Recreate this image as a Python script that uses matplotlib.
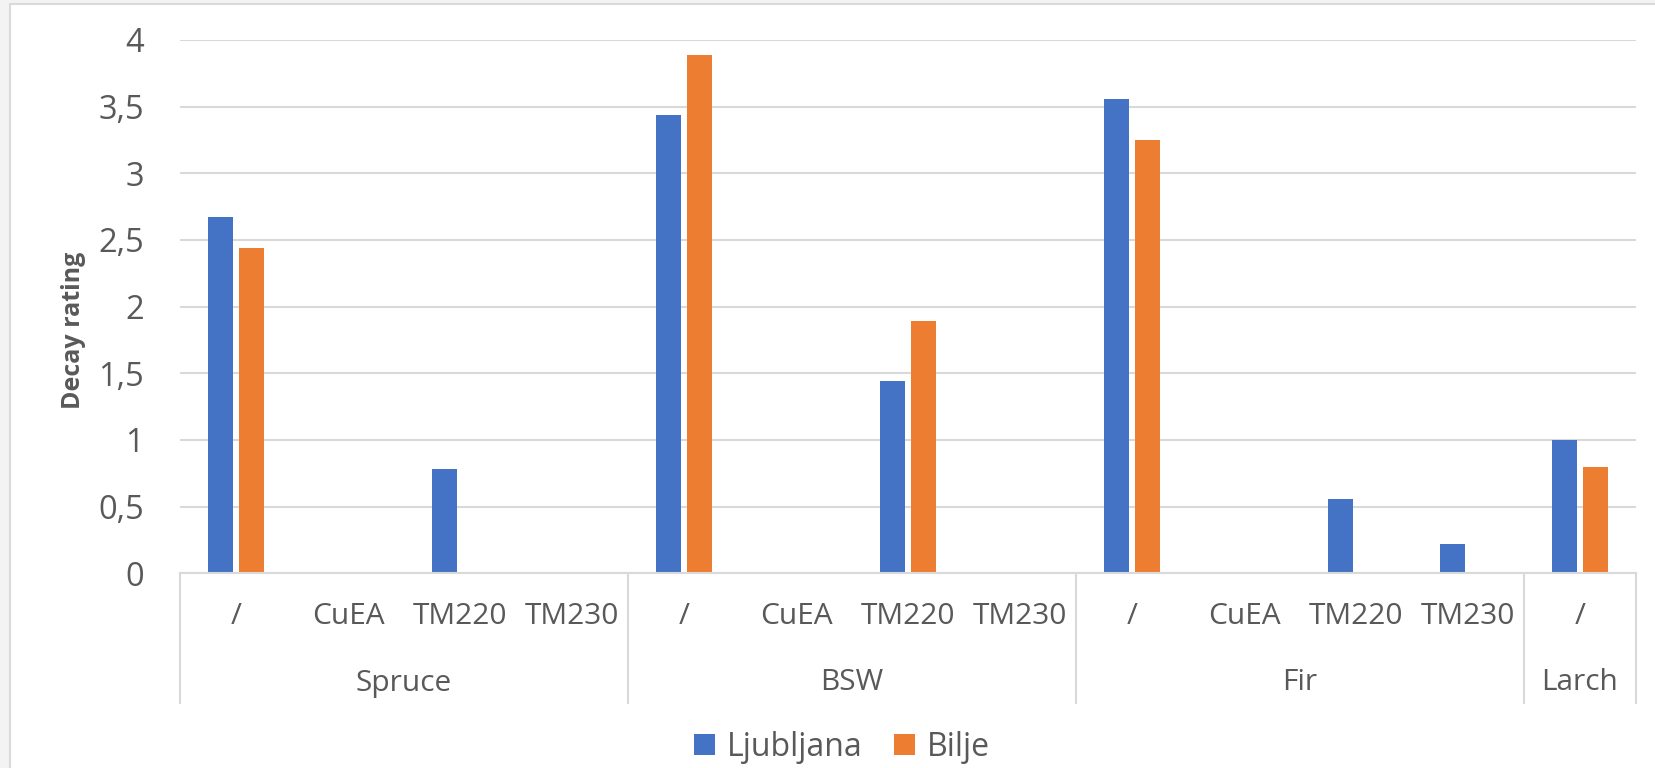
import matplotlib
matplotlib.use("Agg")
import matplotlib.pyplot as plt
from matplotlib.patches import Rectangle, Patch
from matplotlib.lines import Line2D
import matplotlib.transforms as mtransforms

# ---- data ----
groups = ["Spruce", "BSW", "Fir", "Larch"]
treatments = [
    ["/", "CuEA", "TM220", "TM230"],
    ["/", "CuEA", "TM220", "TM230"],
    ["/", "CuEA", "TM220", "TM230"],
    ["/"],
]
ljubljana = [2.67, 0, 0.78, 0, 3.44, 0, 1.44, 0, 3.56, 0, 0.56, 0.22, 1.0]
bilje = [2.44, 0, 0, 0, 3.89, 0, 1.89, 0, 3.25, 0, 0, 0, 0.8]
series_names = ["Ljubljana", "Bilje"]
y_ticks = [0, 0.5, 1, 1.5, 2, 2.5, 3, 3.5, 4]
y_tick_labels = ["0", "0,5", "1", "1,5", "2", "2,5", "3", "3,5", "4"]
y_label = "Decay rating"

# ---- style ----
BLUE = "#4472C4"
ORANGE = "#ED7D31"
TEXT = "#595959"
GRID = "#D9D9D9"
FONT = ["Open Sans", "DejaVu Sans"]
plt.rcParams["font.family"] = FONT

W, H, DPI = 1656, 768, 100
fig = plt.figure(figsize=(W / DPI, H / DPI), dpi=DPI, facecolor="#F3F3F3")
fig.patches.append(Rectangle((10 / W, -0.01), 1.0, 1 - 4 / H + 0.01,
                             transform=fig.transFigure, facecolor="white",
                             edgecolor="#DADADA", linewidth=1.5, zorder=-1))

ax = fig.add_axes([180 / W, 1 - 573.3 / H, 1456 / W, 533.3 / H])
ax.set_zorder(1)
ax.set_facecolor("none")

# category centres and group edges
centers, edges = [], [0.0]
pos = 0.0
for subs in treatments:
    for _ in subs:
        centers.append(pos + 0.5)
        pos += 1.0
    edges.append(pos)

for i, c in enumerate(centers):
    ax.bar(c - 0.14, ljubljana[i], width=0.223, color=BLUE, zorder=3)
    ax.bar(c + 0.14, bilje[i], width=0.223, color=ORANGE, zorder=3)

ax.set_xlim(0, edges[-1])
ax.set_ylim(0, 4)
ax.set_yticks(y_ticks)
ax.set_yticklabels(y_tick_labels)
ax.tick_params(axis="y", length=0, pad=26, labelsize=23.5, labelcolor=TEXT)
ax.set_xticks([])
ax.yaxis.grid(True, color=GRID, linewidth=1.5, zorder=0)
ax.set_axisbelow(True)
for sp in ["left", "right", "top"]:
    ax.spines[sp].set_visible(False)
ax.spines["bottom"].set_color(GRID)
ax.spines["bottom"].set_linewidth(1.5)
ax.spines["bottom"].set_zorder(4)

ax.set_ylabel(y_label, fontsize=18, fontweight="bold", color=TEXT)
ax.yaxis.set_label_coords((86 - 180) / 1456, (573.3 - 330) / 533.3)

# multi-level category axis
trans = mtransforms.blended_transform_factory(ax.transData, ax.transAxes)
sep_bottom = (573.3 - 703) / 533.3
for e in edges:
    ax.add_line(Line2D([e, e], [0, sep_bottom], transform=trans, color=GRID,
                       linewidth=1.5, clip_on=False))
k = 0
for g, subs in enumerate(treatments):
    for name in subs:
        ax.text(centers[k], (573.3 - 617) / 533.3, name, transform=trans,
                ha="center", va="center", fontsize=21.5, color=TEXT)
        k += 1
    ax.text((edges[g] + edges[g + 1]) / 2, (573.3 - 683) / 533.3, groups[g],
            transform=trans, ha="center", va="center", fontsize=21.5, color=TEXT)

handles = [Patch(facecolor=BLUE), Patch(facecolor=ORANGE)]
fig.legend(handles, series_names, loc="center", bbox_to_anchor=(842 / W, 1 - 747 / H),
           ncol=2, frameon=False, fontsize=23, labelcolor=TEXT,
           handlelength=0.66, handleheight=0.66, handletextpad=0.35, columnspacing=1.0,
           borderaxespad=0, borderpad=0)

fig.savefig("out.png", dpi=DPI, facecolor=fig.get_facecolor())
